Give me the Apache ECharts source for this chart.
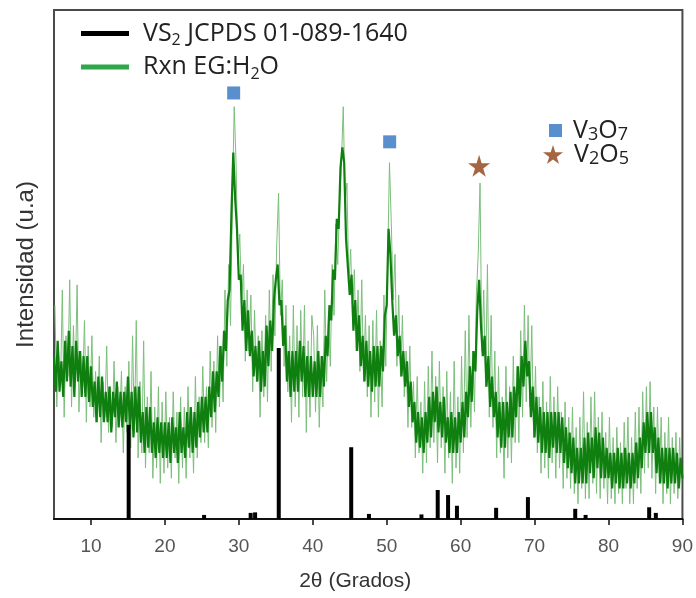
<!DOCTYPE html>
<html>
<head>
<meta charset="utf-8">
<title>DRX Rxn EG:H2O</title>
<script src="https://cdn.jsdelivr.net/npm/echarts@6/dist/echarts.min.js"></script>
<style>
  html, body { margin: 0; padding: 0; background: #fff; }
  #chart { width: 696px; height: 598px; }
</style>
</head>
<body>
<div id="chart"></div>
<script>
// eje 2theta
var xTicks = [10, 20, 30, 40, 50, 60, 70, 80, 90];

// patron medido Rxn EG:H2O, banda oscura (desde 5 grados, cada 0.25)
var rxnDarkStart = 5;
var rxnDarkStep = 0.25;
var rxnDark = [
  32, 25, 35, 25, 31, 24, 35, 27, 37, 26, 34, 24, 35, 27, 33, 24, 32, 24, 32, 23,
  30, 22, 27, 19, 28, 20, 28, 19, 25, 19, 26, 17, 25, 20, 27, 18, 25, 18, 25, 19,
  28, 18, 25, 16, 26, 17, 26, 15, 21, 13, 22, 14, 22, 13, 19, 12, 20, 13, 19, 12,
  19, 12, 19, 11, 20, 13, 18, 11, 21, 13, 18, 12, 21, 14, 22, 13, 21, 14, 23, 16,
  24, 17, 24, 17, 26, 20, 29, 21, 29, 24, 34, 27, 37, 33, 43, 45, 60, 72, 63, 57,
  47, 48, 37, 43, 33, 41, 32, 37, 28, 34, 27, 35, 25, 33, 26, 38, 30, 39, 33, 43,
  47, 50, 42, 43, 34, 38, 27, 33, 24, 33, 25, 33, 25, 35, 27, 34, 24, 32, 24, 32,
  24, 31, 24, 33, 24, 32, 26, 36, 32, 42, 39, 49, 47, 59, 57, 69, 73, 70, 55, 55,
  44, 48, 37, 43, 33, 40, 30, 36, 27, 35, 26, 33, 25, 34, 26, 34, 26, 34, 29, 40,
  42, 57, 52, 43, 36, 40, 32, 36, 28, 33, 26, 31, 22, 27, 19, 23, 15, 21, 14, 20,
  13, 21, 15, 24, 16, 25, 19, 26, 17, 23, 16, 24, 15, 20, 13, 21, 13, 20, 13, 21,
  15, 23, 16, 25, 20, 30, 23, 33, 29, 41, 47, 38, 32, 36, 26, 32, 22, 28, 20, 25,
  16, 23, 14, 23, 14, 23, 16, 25, 16, 26, 20, 30, 22, 32, 26, 35, 28, 31, 20, 26,
  16, 24, 15, 22, 13, 21, 13, 21, 12, 21, 14, 21, 13, 21, 13, 20, 11, 18, 10, 17,
  9, 16, 7, 14, 7, 14, 7, 16, 7, 17, 9, 16, 8, 18, 10, 17, 8, 16, 8, 14,
  8, 13, 6, 13, 7, 14, 6, 13, 6, 14, 7, 13, 6, 13, 7, 15, 8, 16, 10, 19,
  13, 21, 13, 21, 13, 18, 9, 16, 7, 14, 7, 14, 6, 14, 7, 14, 7, 13, 6, 12,
  8
];
// picos de ruido (claros), desde 5.125 grados cada 0.25
var rxnLightStart = 5.125;
var rxnLightStep = 0.25;
var rxnLight = [
  42, 22, 33, 26, 45, 20, 36, 28, 47, 22, 38, 27, 46, 21, 33, 26, 39, 19, 34, 22,
  36, 20, 29, 19, 32, 15, 27, 20, 34, 17, 26, 18, 31, 15, 26, 19, 29, 13, 26, 17,
  31, 14, 36, 17, 39, 12, 27, 13, 35, 10, 24, 13, 29, 8, 22, 10, 26, 7, 23, 9,
  25, 10, 20, 8, 25, 12, 21, 7, 24, 10, 22, 8, 26, 12, 21, 9, 28, 12, 24, 15,
  30, 15, 26, 14, 33, 18, 31, 17, 36, 22, 34, 23, 45, 30, 50, 38, 62, 81, 70, 50,
  56, 42, 50, 31, 45, 33, 44, 25, 41, 27, 36, 20, 37, 24, 40, 23, 45, 29, 48, 36,
  54, 64, 40, 47, 30, 42, 25, 36, 19, 42, 22, 38, 20, 41, 24, 42, 17, 35, 20, 40,
  36, 21, 38, 18, 32, 22, 45, 27, 40, 30, 50, 40, 58, 50, 62, 70, 81, 62, 66, 46,
  53, 40, 49, 33, 45, 29, 47, 27, 40, 24, 38, 20, 39, 23, 41, 20, 35, 22, 44, 30,
  50, 70, 58, 43, 52, 30, 44, 28, 40, 24, 33, 18, 34, 18, 27, 12, 28, 13, 23, 9,
  27, 11, 30, 14, 33, 15, 28, 11, 31, 14, 26, 9, 29, 12, 25, 7, 31, 10, 24, 9,
  32, 13, 37, 16, 40, 18, 33, 21, 44, 52, 66, 33, 45, 26, 50, 20, 40, 18, 33, 12,
  30, 13, 24, 8, 30, 12, 26, 11, 32, 15, 30, 15, 37, 20, 42, 23, 40, 22, 38, 16,
  30, 13, 24, 9, 27, 10, 23, 8, 28, 11, 24, 8, 26, 10, 21, 6, 23, 8, 20, 6,
  22, 5, 18, 3, 20, 6, 25, 4, 19, 4, 24, 7, 25, 5, 20, 4, 21, 6, 17, 3,
  20, 4, 16, 3, 18, 5, 15, 3, 19, 6, 20, 3, 16, 3, 21, 6, 22, 5, 25, 9,
  26, 10, 27, 8, 22, 5, 22, 7, 20, 3, 17, 5, 20, 3, 16, 5, 17, 4, 16, 5
];

// referencia VS2 JCPDS 01-089-1640
var vs2Angles  = [15.1, 25.3, 31.6, 32.2, 35.4, 45.2, 47.6, 54.7, 56.9, 58.3, 59.5, 64.8, 69.1, 75.5, 76.9, 85.5, 86.4];
var vs2Heights = [18.5, 0.8, 1.2, 1.3, 33.6, 14.1, 1.0, 0.9, 5.7, 4.7, 2.6, 2.2, 4.3, 2.0, 0.8, 2.3, 1.2];

// marcadores de fases
var v3o7Angles = [29.3, 50.4];
var v3o7Heights = [83.7, 74.1];
var v2o5Angles = [62.5];
var v2o5Heights = [69.4];

var vs2Name = 'VS₂ JCPDS 01-089-1640';
var rxnName = 'Rxn EG:H₂O';
var v3o7Name = 'V₃O₇';
var v2o5Name = 'V₂O₅';

var starPath = 'path://M50,0 L61,35 L98,35 L68,57 L79,91 L50,70 L21,91 L32,57 L2,35 L39,35 Z';

function pairs(xs, ys) {
  var out = [];
  for (var i = 0; i < ys.length; i++) out.push([xs[i], ys[i]]);
  return out;
}
function grid(start, step, ys) {
  var out = [];
  for (var i = 0; i < ys.length; i++) out.push([start + i * step, ys[i]]);
  return out;
}
// convierte los subindices unicode en texto enriquecido
function sub(name) {
  var subs = '₀₁₂₃₄₅₆₇₈₉';
  var s = '{g|}';
  var buf = '';
  for (var i = 0; i < name.length; i++) {
    var k = subs.indexOf(name[i]);
    if (k >= 0) {
      if (buf) { s += '{n|' + buf + '}'; buf = ''; }
      s += '{s|' + k + '}';
    } else {
      buf += name[i];
    }
  }
  if (buf) s += '{n|' + buf + '}';
  return s;
}

var chart = echarts.init(document.getElementById('chart'));

var richLeft = {
  g: { width: 9 },
  n: { fontFamily: 'Open Sans', fontSize: 25, color: '#222', lineHeight: 30 },
  s: { fontFamily: 'Open Sans', fontSize: 16, color: '#222', lineHeight: 16, verticalAlign: 'bottom' }
};
var richRight = {
  g: { width: 6 },
  n: { fontFamily: 'Open Sans', fontSize: 25, color: '#222', lineHeight: 26 },
  s: { fontFamily: 'Open Sans', fontSize: 18, color: '#222', lineHeight: 9, verticalAlign: 'bottom' }
};

var option = {
  animation: false,
  backgroundColor: '#fff',
  grid: {
    left: 54, right: 13, top: 10, bottom: 79,
    show: true,
    borderColor: '#4a4a4a',
    borderWidth: 2
  },
  legend: [
    {
      orient: 'vertical',
      left: 76, top: 16,
      itemWidth: 48, itemHeight: 5,
      itemGap: 6,
      selectedMode: false,
      data: [
        { name: vs2Name, icon: 'rect', itemStyle: { color: '#000' } },
        { name: rxnName, icon: 'rect', itemStyle: { color: '#2ea84a' } }
      ],
      formatter: sub,
      textStyle: { rich: richLeft }
    },
    {
      left: 544, top: 113,
      itemWidth: 13, itemHeight: 13,
      selectedMode: false,
      data: [v3o7Name],
      formatter: sub,
      textStyle: { rich: richRight }
    },
    {
      left: 538, top: 137,
      itemWidth: 20, itemHeight: 20,
      selectedMode: false,
      data: [v2o5Name],
      formatter: sub,
      textStyle: { rich: richRight }
    }
  ],
  xAxis: {
    type: 'value',
    min: 5, max: 90,
    name: '2θ (Grados)',
    nameLocation: 'middle',
    nameGap: 52,
    nameTextStyle: { fontFamily: 'Liberation Sans', fontSize: 21, color: '#333', padding: [0, 26, 0, 0] },
    axisLine: { show: true, lineStyle: { color: '#111', width: 2 } },
    axisTick: { show: true, customValues: xTicks, length: 6, lineStyle: { color: '#111', width: 1.5 } },
    axisLabel: { customValues: xTicks, margin: 18, fontFamily: 'Liberation Sans', fontSize: 19, color: '#555' },
    splitLine: { show: false }
  },
  yAxis: {
    type: 'value',
    min: 0, max: 100,
    name: 'Intensidad (u.a)',
    nameLocation: 'middle',
    nameGap: 16,
    nameTextStyle: { fontFamily: 'Liberation Sans', fontSize: 24, color: '#333' },
    axisLine: { show: false },
    axisTick: { show: false },
    axisLabel: { show: false },
    splitLine: { show: false }
  },
  series: [
    {
      name: 'ruido',
      type: 'line',
      data: grid(rxnLightStart, rxnLightStep, rxnLight),
      showSymbol: false,
      lineStyle: { color: '#7cbf7c', width: 1 },
      z: 2
    },
    {
      name: rxnName,
      type: 'line',
      data: grid(rxnDarkStart, rxnDarkStep, rxnDark),
      showSymbol: false,
      color: '#2ea84a',
      lineStyle: { color: '#0f800f', width: 2.2 },
      z: 3
    },
    {
      name: vs2Name,
      type: 'bar',
      data: pairs(vs2Angles, vs2Heights),
      barWidth: 4,
      itemStyle: { color: '#000' },
      z: 4
    },
    {
      name: v3o7Name,
      type: 'scatter',
      data: pairs(v3o7Angles, v3o7Heights),
      symbol: 'rect',
      symbolSize: 13,
      itemStyle: { color: '#2f73c0' },
      z: 5
    },
    {
      name: v2o5Name,
      type: 'scatter',
      data: pairs(v2o5Angles, v2o5Heights),
      symbol: starPath,
      symbolSize: 22,
      itemStyle: { color: '#8e3f12' },
      z: 5
    }
  ]
};

chart.setOption(option);
</script>
</body>
</html>
